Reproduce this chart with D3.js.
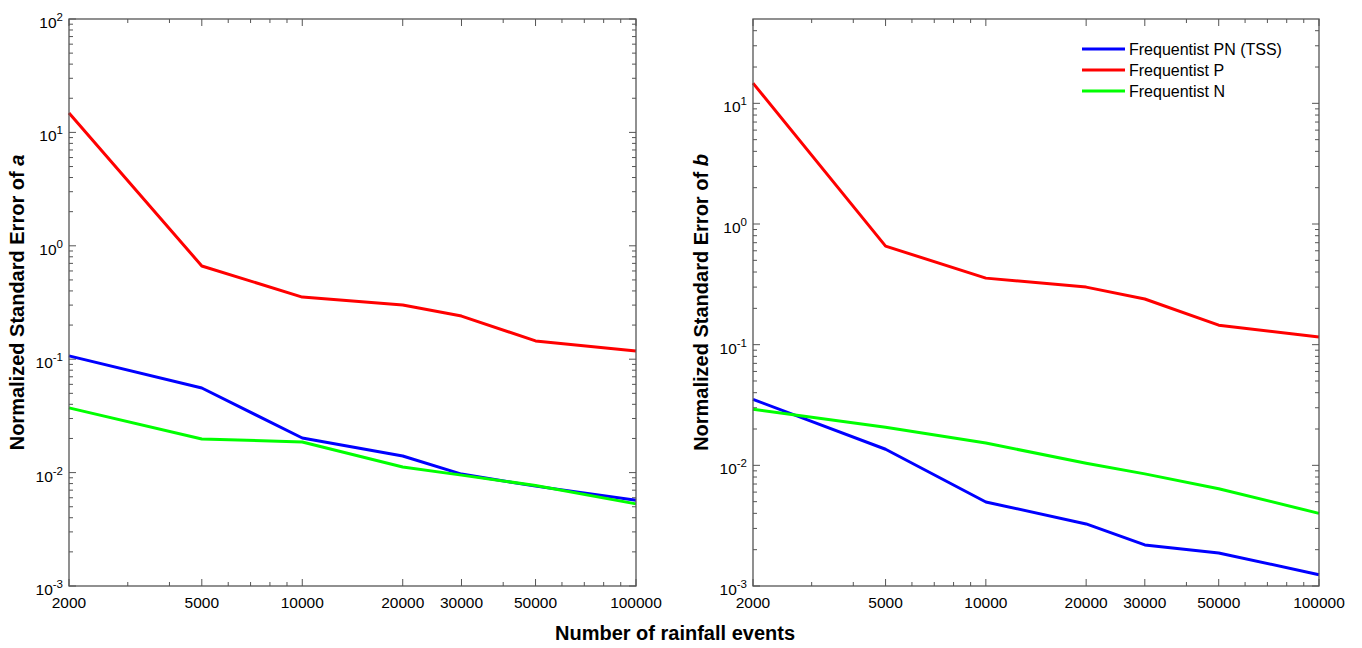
<!DOCTYPE html>
<html>
<head>
<meta charset="utf-8">
<script src="https://cdn.jsdelivr.net/npm/d3@7"></script>
<style>
  body { margin: 0; background: #fff; }
  svg text { font-family: Arial, "Liberation Sans", sans-serif; fill: #000; }
</style>
</head>
<body>
<div id="chart"></div>
<script>
// x values and tick labels
const events = [2000, 5000, 10000, 20000, 30000, 50000, 100000];
const xTickLabels = ['2000', '5000', '10000', '20000', '30000', '50000', '100000'];

// left panel: normalized standard error of a
const aPN = [0.107, 0.0557, 0.0202, 0.014, 0.0097, 0.0076, 0.0057];
const aP = [14.8, 0.664, 0.353, 0.30, 0.24, 0.145, 0.118];
const aN = [0.0372, 0.0198, 0.0186, 0.0112, 0.0095, 0.0077, 0.0053];

// right panel: normalized standard error of b
const bPN = [0.0352, 0.0136, 0.00497, 0.00327, 0.00219, 0.00188, 0.00124];
const bP = [14.7, 0.656, 0.356, 0.30, 0.239, 0.145, 0.116];
const bN = [0.0292, 0.0207, 0.0153, 0.0104, 0.0085, 0.0064, 0.0040];

const seriesNames = ['Frequentist PN (TSS)', 'Frequentist P', 'Frequentist N'];
const seriesColors = ['#0000ff', '#ff0000', '#00ff00'];

const W = 1362, H = 648;
const svg = d3.select('#chart').append('svg')
    .attr('width', W).attr('height', H);

const axisColor = '#555';

// draws one log-log panel with box, ticks on all sides and the three lines
function drawPanel(left, right, top, bottom, yDomain, yExps, series, label, letter, showLegend) {
    const x = d3.scaleLog().domain([2000, 100000]).range([left, right]);
    const y = d3.scaleLog().domain(yDomain).range([bottom, top]);
    const g = svg.append('g');

    // minor ticks
    const xMinor = [];
    for (let d = 1000; d <= 100000; d *= 10) {
        for (let m = 1; m < 10; m++) {
            const v = d * m;
            if (v > 2000 && v < 100000 && !events.includes(v)) xMinor.push(v);
        }
    }
    const yMinor = [];
    for (let e = -3; e <= 2; e++) {
        for (let m = 2; m < 10; m++) {
            const v = m * Math.pow(10, e);
            if (v > yDomain[0] && v < yDomain[1]) yMinor.push(v);
        }
    }
    const yMajor = yExps.map(e => Math.pow(10, e));

    const tickLine = (x1, y1, x2, y2) => g.append('line')
        .attr('x1', x1).attr('y1', y1).attr('x2', x2).attr('y2', y2)
        .attr('stroke', axisColor).attr('stroke-width', 1);

    xMinor.forEach(v => { tickLine(x(v), bottom, x(v), bottom - 4); tickLine(x(v), top, x(v), top + 4); });
    events.forEach(v => { tickLine(x(v), bottom, x(v), bottom - 7); tickLine(x(v), top, x(v), top + 7); });
    yMinor.forEach(v => { tickLine(left, y(v), left + 4, y(v)); tickLine(right, y(v), right - 4, y(v)); });
    yMajor.forEach(v => { tickLine(left, y(v), left + 7, y(v)); tickLine(right, y(v), right - 7, y(v)); });

    // lines
    const line = d3.line().x((d, i) => x(events[i])).y(d => y(d));
    series.forEach((s, k) => {
        g.append('path').datum(s)
            .attr('d', line)
            .attr('fill', 'none')
            .attr('stroke', seriesColors[k])
            .attr('stroke-width', 3)
            .attr('stroke-linejoin', 'round');
    });

    // box
    g.append('rect')
        .attr('x', left).attr('y', top)
        .attr('width', right - left).attr('height', bottom - top)
        .attr('fill', 'none').attr('stroke', axisColor).attr('stroke-width', 1.3);

    // x tick labels
    events.forEach((v, i) => {
        g.append('text')
            .attr('x', x(v)).attr('y', bottom + 22)
            .attr('text-anchor', 'middle')
            .style('font-size', '15.5px')
            .text(xTickLabels[i]);
    });

    // y tick labels 10^e
    yExps.forEach(e => {
        const t = g.append('text')
            .attr('x', left - 6).attr('y', y(Math.pow(10, e)) + 9)
            .attr('text-anchor', 'end')
            .style('font-size', '15.5px');
        t.append('tspan').text('10');
        t.append('tspan').attr('dy', -7).style('font-size', '11.5px').text(String(e));
    });

    // y label
    const yl = g.append('text')
        .attr('transform', `translate(${left - 45},${(top + bottom) / 2}) rotate(-90)`)
        .attr('text-anchor', 'middle')
        .style('font-size', '20px').style('font-weight', 'bold');
    yl.append('tspan').text(label + ' ');
    yl.append('tspan').style('font-style', 'italic').text(letter);

    if (showLegend) {
        seriesNames.forEach((n, k) => {
            const ly = 49 + k * 21;
            g.append('line')
                .attr('x1', 1082).attr('x2', 1125).attr('y1', ly).attr('y2', ly)
                .attr('stroke', seriesColors[k]).attr('stroke-width', 3);
            g.append('text')
                .attr('x', 1129).attr('y', ly + 5.5)
                .style('font-size', '16px')
                .text(n);
        });
    }
}

drawPanel(69, 636, 19, 586, [1e-3, 1e2], [-3, -2, -1, 0, 1, 2],
    [aPN, aP, aN], 'Normalized Standard Error of', 'a', false);
drawPanel(753, 1319, 19, 586, [1e-3, 50], [-3, -2, -1, 0, 1],
    [bPN, bP, bN], 'Normalized Standard Error of', 'b', true);

// shared x label
svg.append('text')
    .attr('x', 675).attr('y', 640)
    .attr('text-anchor', 'middle')
    .style('font-size', '20px').style('font-weight', 'bold')
    .text('Number of rainfall events');
</script>
</body>
</html>
